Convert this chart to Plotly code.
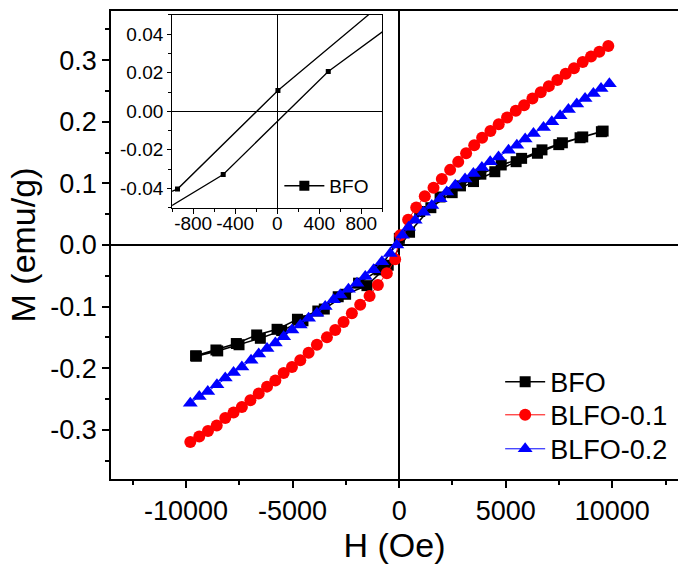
import plotly.graph_objects as go

# ---------------- data ----------------
# BFO: descending branch (+H -> -H) followed by ascending branch (-H -> +H)
bfo_h = [9567, 8611, 7655, 6699, 5743, 4787, 3831, 2875, 1919, 963, 7, -949, -1905, -2861, -3817,
         -4773, -5729, -6685, -7641, -8597, -9553,
         -9514, -8514, -7514, -6514, -5514, -4514, -3514, -2514, -1514, -514, 486, 1486, 2486, 3486,
         4486, 5486, 6486, 7486, 8486, 9486]
bfo_m = [0.185, 0.1755, 0.166, 0.1545, 0.1407, 0.130, 0.115, 0.096, 0.078, 0.0544, 0.0108, -0.0404,
         -0.062, -0.084, -0.1072, -0.1206, -0.1369, -0.1461, -0.160, -0.1705, -0.180,
         -0.1805, -0.172, -0.162, -0.1515, -0.139, -0.123, -0.104, -0.080, -0.066, -0.0328, 0.0207,
         0.0606, 0.085, 0.103, 0.119, 0.1353, 0.149, 0.163, 0.1742, 0.184]

blfo1_h = [-9800, -9380, -8970, -8560, -8160, -7770, -7380, -6980, -6590, -6200, -5810, -5420, -5030,
           -4640, -4250, -3860, -3390, -3000, -2610, -2220, -1830, -1390, -1000, -580, -190, 50, 420,
           800, 1200, 1610, 2000, 2390, 2770, 3140, 3520, 3890, 4280, 4670, 5060, 5470, 5860, 6250,
           6640, 7020, 7420, 7810, 8200, 8610, 9000, 9390, 9810]
blfo1_m = [-0.320, -0.311, -0.302, -0.293, -0.281, -0.272, -0.263, -0.252, -0.241, -0.230, -0.220,
           -0.208, -0.198, -0.187, -0.175, -0.162, -0.150, -0.138, -0.125, -0.111, -0.097, -0.083,
           -0.065, -0.046, -0.023, 0.016, 0.041, 0.061, 0.079, 0.093, 0.107, 0.122, 0.135, 0.149,
           0.162, 0.174, 0.185, 0.196, 0.207, 0.218, 0.227, 0.238, 0.248, 0.258, 0.268, 0.278,
           0.287, 0.297, 0.306, 0.314, 0.323]

blfo2_h = [-9800, -9380, -8980, -8550, -8160, -7770, -7380, -6950, -6590, -6200, -5810, -5420, -5030,
           -4640, -4250, -3860, -3470, -3080, -2770, -2380, -1980, -1590, -1200, -810, -420, -110,
           150, 440, 750, 1140, 1530, 1920, 2230, 2630, 3090, 3480, 3880, 4270, 4660, 5130, 5520,
           5910, 6300, 6770, 7160, 7550, 7940, 8330, 8720, 9110, 9470, 9860]
blfo2_m = [-0.257, -0.246, -0.238, -0.227, -0.216, -0.207, -0.198, -0.187, -0.177, -0.168, -0.159,
           -0.149, -0.138, -0.130, -0.119, -0.111, -0.100, -0.089, -0.081, -0.072, -0.062, -0.051,
           -0.040, -0.027, -0.014, 0.000, 0.016, 0.029, 0.040, 0.053, 0.064, 0.075, 0.086, 0.097,
           0.107, 0.116, 0.126, 0.135, 0.143, 0.154, 0.162, 0.172, 0.181, 0.191, 0.200, 0.210,
           0.220, 0.229, 0.238, 0.246, 0.254, 0.262]

series_names = ["BFO", "BLFO-0.1", "BLFO-0.2"]

x_tickvals = [-10000, -5000, 0, 5000, 10000]
x_ticktext = ["-10000", "-5000", "0", "5000", "10000"]
y_tickvals = [-0.3, -0.2, -0.1, 0.0, 0.1, 0.2, 0.3]
y_ticktext = ["-0.3", "-0.2", "-0.1", "0.0", "0.1", "0.2", "0.3"]
ix_tickvals = [-800, -400, 0, 400, 800]
ix_ticktext = ["-800", "-400", "0", "400", "800"]
iy_tickvals = [-0.04, -0.02, 0.0, 0.02, 0.04]
iy_ticktext = ["-0.04", "-0.02", "0.00", "0.02", "0.04"]

# ---------------- figure ----------------
FONT = "Arial, Liberation Sans, sans-serif"
W, H = 678, 564
ML, MR, MT, MB = 110.5, 0, 11, 84.7
pw, ph = W - ML - MR, H - MT - MB

def px_x(p):
    return (p - ML) / pw

def px_y(p):
    return (H - MB - p) / ph

fig = go.Figure()

fig.add_trace(go.Scatter(x=bfo_h, y=bfo_m, name=series_names[0], mode="lines+markers",
                         line=dict(color="black", width=1.5),
                         marker=dict(symbol="square", size=11, color="black"),
                         legend="legend"))
fig.add_trace(go.Scatter(x=blfo1_h, y=blfo1_m, name=series_names[1], mode="lines+markers",
                         line=dict(color="red", width=1),
                         marker=dict(symbol="circle", size=12, color="red"),
                         legend="legend3"))
fig.add_trace(go.Scatter(x=blfo2_h, y=blfo2_m, name=series_names[2], mode="lines+markers",
                         line=dict(color="blue", width=1),
                         marker=dict(symbol="triangle-up", size=13, color="blue"),
                         legend="legend4"))

# inset
fig.add_trace(go.Scatter(x=bfo_h, y=bfo_m, name=series_names[0], mode="lines+markers",
                         xaxis="x2", yaxis="y2", showlegend=False,
                         line=dict(color="black", width=1.3),
                         marker=dict(symbol="square", size=5, color="black")))
fig.add_trace(go.Scatter(x=[None], y=[None], name=series_names[0], mode="lines+markers",
                         xaxis="x2", yaxis="y2", legend="legend2",
                         line=dict(color="black", width=1.5),
                         marker=dict(symbol="square", size=10, color="black")))

axis_common = dict(showline=True, linecolor="black", showgrid=False, ticks="outside",
                   tickcolor="black", zeroline=True, zerolinecolor="black")

def leg(xp, top_px, size):
    return dict(x=px_x(xp), y=px_y(top_px), xanchor="left", yanchor="top",
                bgcolor="rgba(0,0,0,0)", borderwidth=0,
                font=dict(size=size, family=FONT), itemwidth=40)

fig.update_layout(
    width=W, height=H,
    margin=dict(l=ML, r=MR, t=MT, b=MB, pad=0),
    paper_bgcolor="white", plot_bgcolor="white",
    font=dict(family=FONT, color="black"),
    xaxis=dict(**axis_common, domain=[0, 1], range=[-13520, 13080], mirror=True,
               linewidth=1.5, tickwidth=1.5, ticklen=7, zerolinewidth=1.5,
               tickmode="array", tickvals=x_tickvals, ticktext=x_ticktext,
               tickfont=dict(size=27, family=FONT),
               minor=dict(ticks="outside", tickmode="linear", tick0=0, dtick=2500, ticklen=4,
                          tickwidth=1.5, tickcolor="black", showgrid=False),
               title=dict(text="H (Oe)", font=dict(size=34, family=FONT), standoff=6)),
    yaxis=dict(**axis_common, domain=[0, 1], range=[-0.38, 0.38], mirror=False,
               linewidth=1.5, tickwidth=1.5, ticklen=7, zerolinewidth=1.5,
               tickmode="array", tickvals=y_tickvals, ticktext=y_ticktext,
               tickfont=dict(size=27, family=FONT),
               minor=dict(ticks="outside", tickmode="linear", tick0=0, dtick=0.05, ticklen=4,
                          tickwidth=1.5, tickcolor="black", showgrid=False),
               title=dict(text="M (emu/g)", font=dict(size=34, family=FONT), standoff=4)),
    xaxis2=dict(**axis_common, domain=[px_x(171.7), px_x(382)], anchor="y2", range=[-1000, 1000],
                mirror=True, linewidth=1, tickwidth=1, ticklen=5, zerolinewidth=1,
                tickmode="array", tickvals=ix_tickvals, ticktext=ix_ticktext,
                tickfont=dict(size=19, family=FONT), ticklabelstandoff=-6,
                minor=dict(ticks="outside", tickmode="linear", tick0=0, dtick=200, ticklen=3,
                           tickwidth=1, tickcolor="black", showgrid=False)),
    yaxis2=dict(**axis_common, domain=[px_y(207.7), px_y(15)], anchor="x2", range=[-0.05, 0.05],
                mirror=True, linewidth=1, tickwidth=1, ticklen=4, zerolinewidth=1,
                tickmode="array", tickvals=iy_tickvals, ticktext=iy_ticktext,
                tickfont=dict(size=19, family=FONT),
                minor=dict(ticks="outside", tickmode="linear", tick0=0, dtick=0.01, ticklen=3,
                           tickwidth=1, tickcolor="black", showgrid=False)),
    legend=leg(500, 358, 27),
    legend3=leg(500, 391, 27),
    legend4=leg(500, 425, 27),
    legend2=leg(279, 167, 19),
)

fig.write_html("out.html")
